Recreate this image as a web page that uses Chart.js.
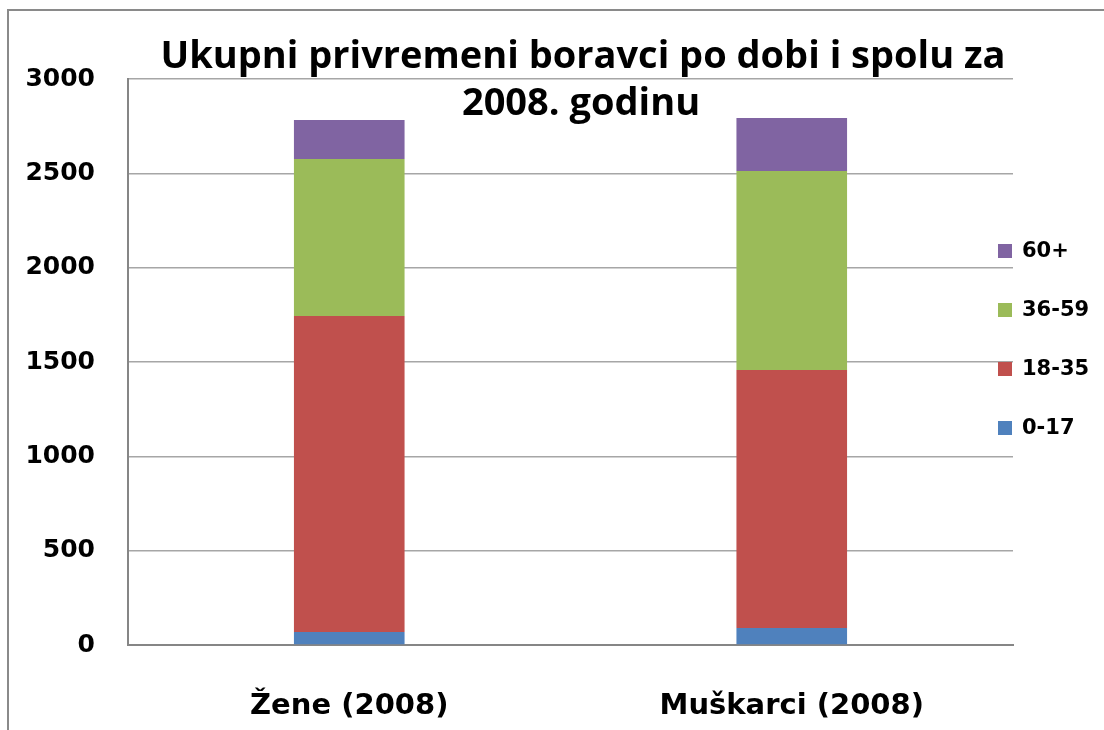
<!DOCTYPE html>
<html>
<head>
<meta charset="utf-8">
<script src="https://cdn.jsdelivr.net/npm/chart.js@4"></script>
<style>
  body { margin: 0; background: #fff; }
  canvas { display: block; }
</style>
</head>
<body>
<canvas id="chart" width="1104" height="730"></canvas>
<script>
// Data
const categories = ["Žene (2008)", "Muškarci (2008)"];
const ageGroups = ["0-17", "18-35", "36-59", "60+"];
const age0to17 = [69, 90];
const age18to35 = [1675, 1368];
const age36to59 = [832, 1054];
const age60plus = [207, 281];
const colors = ["#4F81BD", "#C0504D", "#9BBB59", "#8064A2"];
const yTicks = [0, 500, 1000, 1500, 2000, 2500, 3000];
const titleLines = ["Ukupni privremeni boravci po dobi i spolu za", "2008. godinu"];

const seriesValues = [age0to17, age18to35, age36to59, age60plus];

// Border, title and legend drawn on the canvas
const decorPlugin = {
    id: "decor",
    beforeDraw(chart) {
        const ctx = chart.ctx;
        ctx.save();
        ctx.strokeStyle = "#8a8a8a";
        ctx.lineWidth = 2;
        ctx.beginPath();
        ctx.moveTo(8, chart.height + 5);
        ctx.lineTo(8, 10);
        ctx.lineTo(chart.width + 5, 10);
        ctx.stroke();
        ctx.restore();
    },
    afterDraw(chart) {
        const ctx = chart.ctx;
        ctx.save();
        ctx.fillStyle = "#000";
        ctx.textAlign = "center";
        ctx.textBaseline = "middle";
        ctx.font = "bold 38px 'Open Sans'";
        ctx.fillText(titleLines[0], 583, 57);
        ctx.fillText(titleLines[1], 581, 104);

        // legend, top item is last dataset
        ctx.textAlign = "left";
        ctx.font = "bold 21px 'DejaVu Sans'";
        const ds = chart.data.datasets;
        for (let i = 0; i < ds.length; i++) {
            const y = 251 + (ds.length - 1 - i) * 59;
            ctx.fillStyle = ds[i].backgroundColor;
            ctx.fillRect(998, y - 7, 14, 14);
            ctx.fillStyle = "#000";
            ctx.fillText(ds[i].label, 1022, y + 1);
        }
        ctx.restore();
    }
};

const ctx = document.getElementById("chart").getContext("2d");
new Chart(ctx, {
    type: "bar",
    data: {
        labels: categories,
        datasets: ageGroups.map((g, i) => ({
            label: g,
            data: seriesValues[i],
            backgroundColor: colors[i],
            borderWidth: 0,
            categoryPercentage: 1,
            barPercentage: 0.25
        }))
    },
    options: {
        responsive: false,
        animation: false,
        layout: { padding: { top: 79, right: 91, bottom: 0, left: 0 } },
        plugins: {
            legend: { display: false },
            title: { display: false },
            tooltip: { enabled: false }
        },
        scales: {
            x: {
                stacked: true,
                grid: { display: false, drawTicks: false },
                border: { display: true, color: "#868686", width: 2 },
                ticks: {
                    color: "#000",
                    padding: 44,
                    font: { family: "DejaVu Sans", size: 29, weight: "bold" }
                },
                afterFit(scale) { scale.height = 85; }
            },
            y: {
                stacked: true,
                min: 0,
                max: 3000,
                afterBuildTicks(scale) { scale.ticks = yTicks.map(v => ({ value: v })); },
                grid: { color: "#a6a6a6", lineWidth: 1.5, drawTicks: false },
                border: { display: true, color: "#868686", width: 2 },
                ticks: {
                    color: "#000",
                    padding: 33,
                    font: { family: "DejaVu Sans", size: 25, weight: "bold" },
                    callback: v => String(v)
                },
                afterFit(scale) { scale.width = 128; }
            }
        }
    },
    plugins: [decorPlugin]
});
</script>
</body>
</html>
